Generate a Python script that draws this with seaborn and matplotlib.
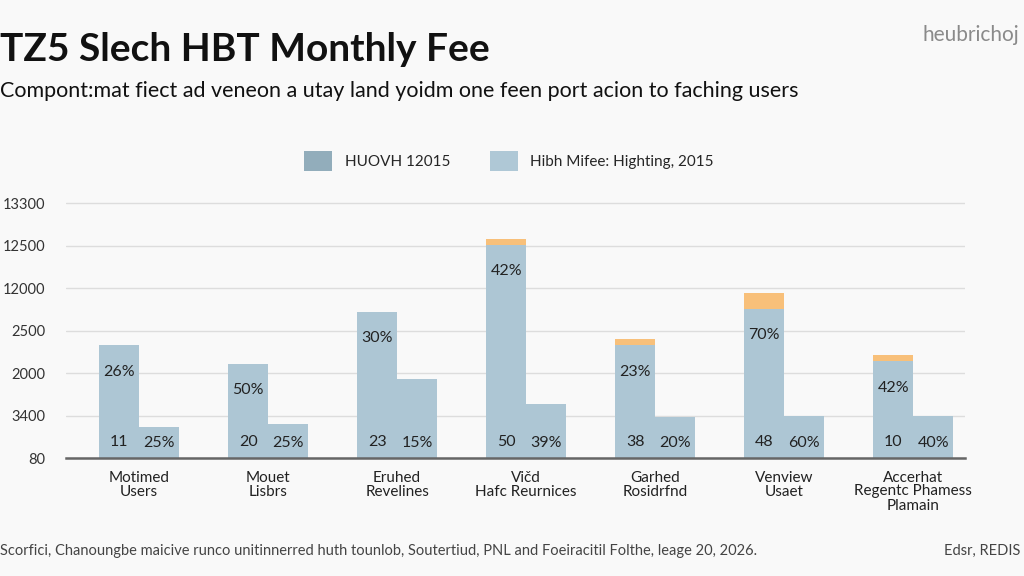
import numpy as np
import pandas as pd
import seaborn as sns
import matplotlib.pyplot as plt
from matplotlib.patches import Patch

# data (y in grid units, one unit per gridline)
categories = ["Motimed\nUsers", "Mouet\nLisbrs", "Eruhed\nRevelines", "Vičd\nHafc Reurnices",
              "Garhed\nRosidrfnd", "Venview\nUsaet", "Accerhat\nRegentc Phamess\nPlamain"]
series = ["HUOVH 12015", "Hibh Mifee: Highting, 2015"]
tall_vals = [2.65, 2.22, 3.44, 5.02, 2.65, 3.51, 2.28]
short_vals = [0.72, 0.80, 1.86, 1.28, 0.97, 1.00, 0.98]
cap_vals = [0, 0, 0, 0.14, 0.16, 0.37, 0.14]
tall_pct = ["26%", "50%", "30%", "42%", "23%", "70%", "42%"]
tall_num = ["11", "20", "23", "50", "38", "48", "10"]
short_pct = ["25%", "25%", "15%", "39%", "20%", "60%", "40%"]
ytick_labels = ["80", "3400", "2000", "2500", "12000", "12500", "13300"]

bar_col = "#adc6d4"
leg_cols = ["#92adbb", "#afc8d6"]
cap_col = "#f8c07a"
bg = "#f9f9f9"

df = pd.DataFrame({
    "category": categories * 2,
    "series": [series[0]] * len(categories) + [series[1]] * len(categories),
    "value": tall_vals + short_vals,
})

sns.set_style("white")
plt.rcParams["font.family"] = ["Lato", "DejaVu Sans"]

fig = plt.figure(figsize=(10.24, 5.76), dpi=100, facecolor=bg)
ax = fig.add_axes([66 / 1024, 1 - 458 / 576, (965 - 66) / 1024, (458 - 199) / 576])
ax.set_facecolor(bg)

sns.barplot(data=df, x="category", y="value", hue="series", palette=[bar_col, bar_col],
            width=0.62, saturation=1, ax=ax, legend=False, linewidth=0, zorder=3)

tall_bars = ax.containers[0]
short_bars = ax.containers[1]
for p, cap in zip(tall_bars, cap_vals):
    if cap > 0:
        ax.bar(p.get_x() + p.get_width() / 2, cap, width=p.get_width(),
               bottom=p.get_height(), color=cap_col, linewidth=0, zorder=3)

lab_kw = dict(textcoords="offset points", ha="center", va="center", fontsize=11.5,
              color="#222222", zorder=5)
for p, pct, num in zip(tall_bars, tall_pct, tall_num):
    cx = p.get_x() + p.get_width() / 2
    ax.annotate(pct, (cx, p.get_height()), xytext=(0, -19), **lab_kw)
    ax.annotate(num, (cx, 0), xytext=(0, 11.5), **lab_kw)
for p, pct in zip(short_bars, short_pct):
    cx = p.get_x() + p.get_width() / 2
    ax.annotate(pct, (cx, 0), xytext=(0, 10.5), **lab_kw)

ax.set_xlim(-0.566, 6.4)
ax.set_ylim(0, 6.1)
ax.set_yticks(range(len(ytick_labels)))
ax.set_yticklabels(ytick_labels, fontsize=10.5, color="#333333")
ax.tick_params(axis="y", length=0, pad=15)
ax.tick_params(axis="x", length=0, pad=9)
for t in ax.get_xticklabels():
    t.set_fontsize(11)
    t.set_color("#222222")
    t.set_linespacing(1.0)
ax.set_xlabel("")
ax.set_ylabel("")
ax.yaxis.grid(True, color="#dddddd", linewidth=1, zorder=0)
ax.set_axisbelow(True)
for s in ["top", "right", "left"]:
    ax.spines[s].set_visible(False)
ax.spines["bottom"].set_color("#666666")
ax.spines["bottom"].set_linewidth(1.8)
ax.spines["bottom"].set_zorder(6)

handles = [Patch(facecolor=c, edgecolor="none") for c in leg_cols]
fig.legend(handles, series, loc="center", bbox_to_anchor=(0.497, 1 - 161 / 576), ncol=2,
           frameon=False, fontsize=11, handlelength=1.85, handleheight=1.7,
           handletextpad=0.8, columnspacing=2.6)

fig.text(0.0, 1 - 61 / 576, "TZ5 Slech HBT Monthly Fee", fontsize=28, fontweight="bold",
         color="#111111", va="baseline", ha="left")
fig.text(0.0, 1 - 97 / 576,
         "Compont:mat fiect ad veneon a utay land yoidm one feen port acion to faching users",
         fontsize=15.5, color="#111111", va="baseline", ha="left")
fig.text(922 / 1024, 1 - 35 / 576, "heubrichoj", fontsize=15, color="#8a8a8a",
         va="center", ha="left")
fig.text(0.0, 1 - 551 / 576,
         "Scorfici, Chanoungbe maicive runco unitinnerred huth tounlob, Soutertiud, PNL and "
         "Foeiracitil Folthe, leage 20, 2026.",
         fontsize=10.5, color="#444444", va="center", ha="left")
fig.text(1020 / 1024, 1 - 551 / 576, "Edsr, REDIS", fontsize=10.5, color="#444444",
         va="center", ha="right")

fig.savefig("out.png", dpi=100, facecolor=bg)
